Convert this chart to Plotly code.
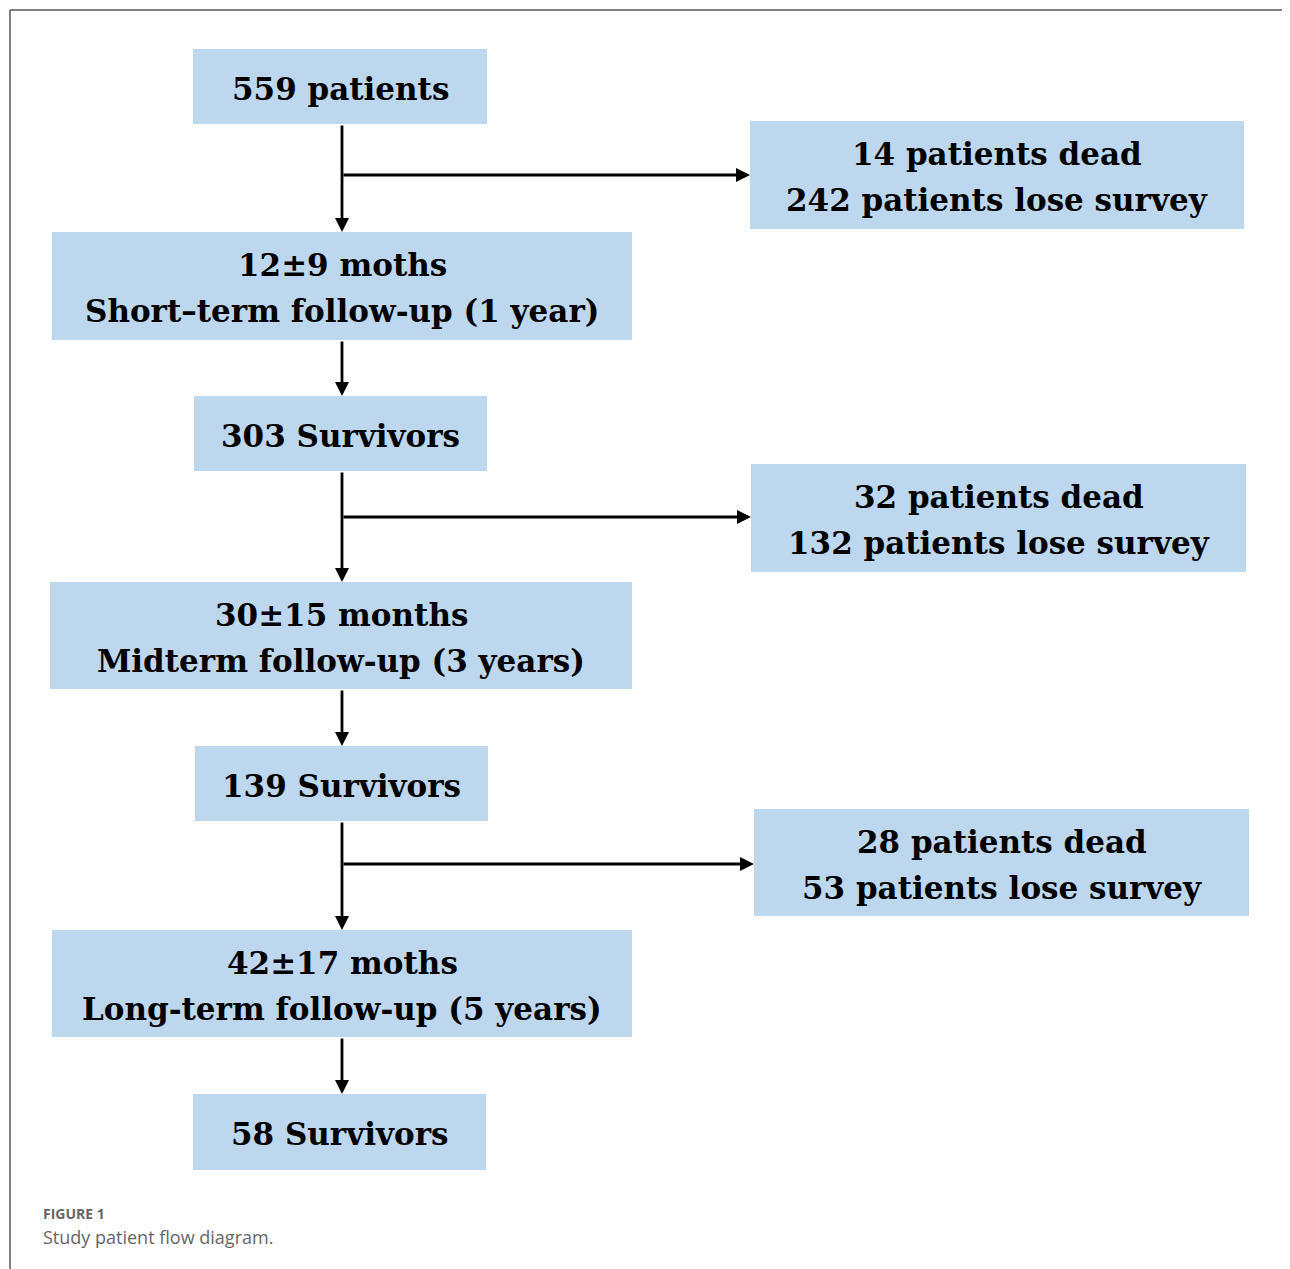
import plotly.graph_objects as go

# ---- data ----
main_labels = [
    ["559 patients"],
    ["12±9 moths", "Short–term follow-up (1 year)"],
    ["303 Survivors"],
    ["30±15 months", "Midterm follow-up (3 years)"],
    ["139 Survivors"],
    ["42±17 moths", "Long-term follow-up (5 years)"],
    ["58 Survivors"],
]
side_labels = [
    ["14 patients dead", "242 patients lose survey"],
    ["32 patients dead", "132 patients lose survey"],
    ["28 patients dead", "53 patients lose survey"],
]
caption_title = "FIGURE 1"
caption_text = "Study patient flow diagram."

# ---- layout geometry (pixels) ----
W, H = 1290, 1269
OFF = 8  # page body margin compensation
main_boxes = [
    (193, 487, 49, 124),
    (52, 632, 232, 340),
    (194, 487, 396, 471),
    (50, 632, 582, 689),
    (195, 488, 746, 821),
    (52, 632, 930, 1037),
    (193, 486, 1094, 1170),
]
side_boxes = [
    (750, 1244, 121, 229),
    (751, 1246, 464, 572),
    (754, 1249, 809, 916),
]
branch_y = [175, 517, 864]
spine_x = 342
line_gap = 46
box_color = "#BDD7EE"
font_family = "DejaVu Serif"
font_size = 31

fig = go.Figure()
shapes = []
annotations = []

# frame lines (top and left)
shapes.append(dict(type="line", xref="x", yref="y", x0=10, x1=W + OFF, y0=10, y1=10,
                   line=dict(color="#555555", width=1.5)))
shapes.append(dict(type="line", xref="x", yref="y", x0=10, x1=10, y0=10, y1=H + OFF,
                   line=dict(color="#555555", width=1.5)))

def add_box(box, lines):
    x0, x1, y0, y1 = box
    shapes.append(dict(type="rect", xref="x", yref="y", x0=x0, x1=x1, y0=y0, y1=y1,
                       fillcolor=box_color, line=dict(width=0), layer="below"))
    cy = (y0 + y1) / 2 + 2
    n = len(lines)
    for k, lab in enumerate(lines):
        yy = cy + (k - (n - 1) / 2) * line_gap
        annotations.append(dict(x=(x0 + x1) / 2, y=yy, xref="x", yref="y",
                                text="<b>" + lab + "</b>", showarrow=False,
                                font=dict(family=font_family, size=font_size, color="#000000"),
                                align="center", xanchor="center", yanchor="middle"))

for b, lab in zip(main_boxes, main_labels):
    add_box(b, lab)
for b, lab in zip(side_boxes, side_labels):
    add_box(b, lab)

def arrow(x0, y0, x1, y1):
    annotations.append(dict(x=x1, y=y1, ax=x0, ay=y0, xref="x", yref="y",
                            axref="x", ayref="y", text="", showarrow=True,
                            arrowhead=2, arrowsize=1.0, arrowwidth=2.8,
                            arrowcolor="#000000", standoff=0))

# vertical arrows between main boxes
for i in range(len(main_boxes) - 1):
    arrow(spine_x, main_boxes[i][3], spine_x, main_boxes[i + 1][2])

# horizontal branch arrows
for yb, sb in zip(branch_y, side_boxes):
    arrow(spine_x, yb, sb[0], yb)

# caption
annotations.append(dict(x=41, y=1213, xref="x", yref="y", text="<b>" + caption_title + "</b>",
                        showarrow=False, xanchor="left", yanchor="middle",
                        font=dict(family="Open Sans", size=14, color="#666666")))
annotations.append(dict(x=41, y=1237, xref="x", yref="y", text=caption_text,
                        showarrow=False, xanchor="left", yanchor="middle",
                        font=dict(family="Open Sans", size=18, color="#666666")))

fig.update_layout(
    width=W, height=H,
    margin=dict(l=0, r=0, t=0, b=0),
    paper_bgcolor="white", plot_bgcolor="white",
    xaxis=dict(range=[OFF, W + OFF], visible=False, fixedrange=True),
    yaxis=dict(range=[H + OFF, OFF], visible=False, fixedrange=True),
    shapes=shapes, annotations=annotations, showlegend=False,
)
fig.write_html("out.html")
